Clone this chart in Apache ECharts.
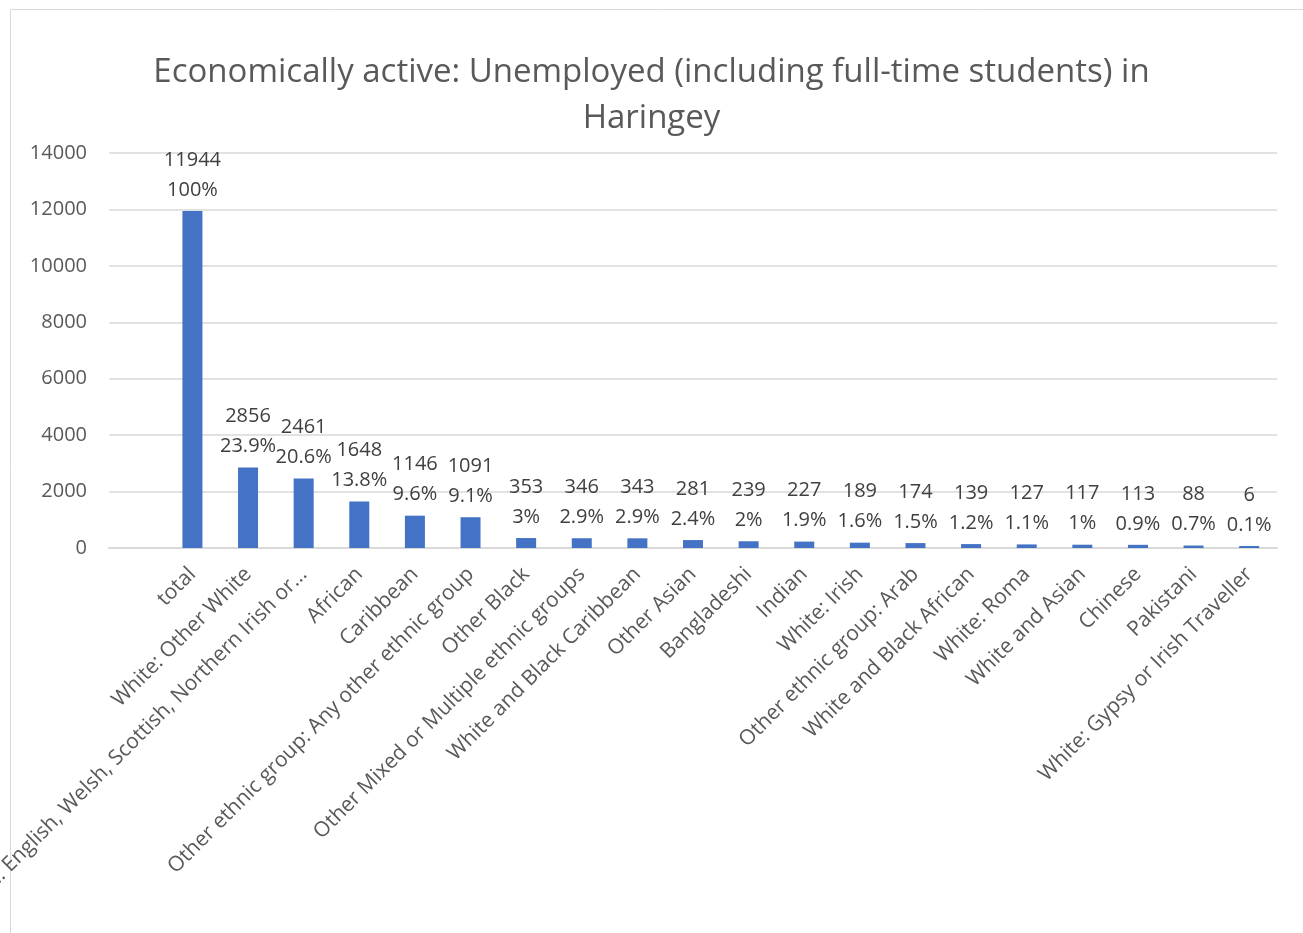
<!DOCTYPE html>
<html>
<head>
<meta charset="utf-8">
<title>Economically active: Unemployed in Haringey</title>
<script src="https://cdn.jsdelivr.net/npm/echarts@6/dist/echarts.min.js"></script>
<style>
  html, body { margin: 0; padding: 0; background: #ffffff; }
  #chart { width: 1303px; height: 933px; }
</style>
</head>
<body>
<div id="chart"></div>
<script>
// Ethnic groups (the first slot is an empty category in the source sheet)
const categories = [
  '',
  'total',
  'White: Other White',
  'White: English, Welsh, Scottish, Northern Irish or...',
  'African',
  'Caribbean',
  'Other ethnic group: Any other ethnic group',
  'Other Black',
  'Other Mixed or Multiple ethnic groups',
  'White and Black Caribbean',
  'Other Asian',
  'Bangladeshi',
  'Indian',
  'White: Irish',
  'Other ethnic group: Arab',
  'White and Black African',
  'White: Roma',
  'White and Asian',
  'Chinese',
  'Pakistani',
  'White: Gypsy or Irish Traveller'
];

// Unemployed people (including full-time students)
const counts = [
  null, 11944, 2856, 2461, 1648, 1146, 1091, 353, 346, 343, 281,
  239, 227, 189, 174, 139, 127, 117, 113, 88, 6
];

// Share of the total, as printed under each count
const shares = [
  '', '100%', '23.9%', '20.6%', '13.8%', '9.6%', '9.1%', '3%', '2.9%', '2.9%', '2.4%',
  '2%', '1.9%', '1.6%', '1.5%', '1.2%', '1.1%', '1%', '0.9%', '0.7%', '0.1%'
];

const yTicks = { min: 0, max: 14000, interval: 2000 };

const FONT = '"Open Sans", "Noto Sans", sans-serif';

const chart = echarts.init(document.getElementById('chart'), null, { renderer: 'canvas' });

chart.setOption({
  animation: false,
  backgroundColor: '#ffffff',
  textStyle: { fontFamily: FONT },
  graphic: [{
    type: 'rect',
    silent: true,
    shape: { x: 10.5, y: 9.5, width: 1320, height: 950 },
    style: { fill: 'none', stroke: '#d9d9d9', lineWidth: 1 }
  }],
  title: {
    text: 'Economically active: Unemployed (including full-time students) in\nHaringey',
    left: 'center',
    top: 50,
    padding: 0,
    textStyle: {
      fontFamily: FONT,
      fontSize: 33,
      fontWeight: 'normal',
      color: '#595959',
      lineHeight: 46
    }
  },
  grid: {
    left: 109,
    right: 26,
    top: 153,
    bottom: 385,
    containLabel: false,
    outerBoundsMode: 'none'
  },
  xAxis: {
    type: 'category',
    data: categories,
    axisTick: { show: false },
    axisLine: { lineStyle: { color: '#d9d9d9', width: 2 } },
    axisLabel: {
      interval: 0,
      rotate: 45,
      margin: 23,
      fontFamily: FONT,
      fontSize: 21,
      color: '#595959'
    }
  },
  yAxis: {
    type: 'value',
    min: yTicks.min,
    max: yTicks.max,
    interval: yTicks.interval,
    axisLine: { show: false },
    axisTick: { show: false },
    splitLine: { lineStyle: { color: '#d9d9d9', width: 1.5 } },
    axisLabel: {
      margin: 22,
      fontFamily: FONT,
      fontSize: 20,
      color: '#595959',
      formatter: v => String(v)
    }
  },
  series: [{
    type: 'bar',
    data: counts,
    barWidth: 20,
    barMinHeight: 2,
    itemStyle: { color: '#4472c4' },
    label: {
      show: true,
      position: 'top',
      distance: 6,
      fontFamily: FONT,
      fontSize: 20,
      lineHeight: 30,
      color: '#404040',
      formatter: p => p.value + '\n' + shares[p.dataIndex]
    }
  }]
});
</script>
</body>
</html>
